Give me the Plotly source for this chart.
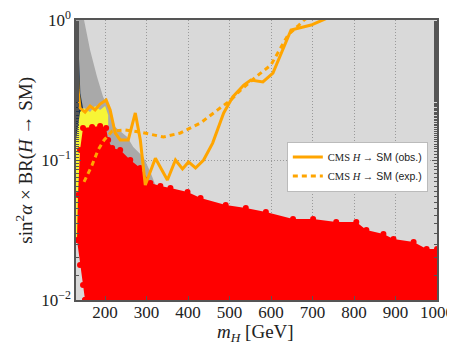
import plotly.graph_objects as go

# Observed CMS limit (solid)
obs_mass = [130, 132.4, 134.8, 139.7, 151.8, 163.9, 176, 188, 202.6, 212.3, 224.4, 236.5, 255.9,
            272.9, 285, 297, 321.3, 350.3, 369.7, 386.7, 401.2, 418.1, 437.5, 459.3, 485.9, 507.7,
            534.3, 551.3, 580.4, 604.6, 648.2, 696.6, 725.6, 769]
obs_limit = [0.8, 0.52, 0.316, 0.235, 0.22, 0.243, 0.228, 0.251, 0.268, 0.228, 0.156, 0.139, 0.139,
             0.217, 0.139, 0.0663, 0.103, 0.072, 0.1, 0.0863, 0.0968, 0.0877, 0.1, 0.132, 0.217, 0.282,
             0.343, 0.373, 0.361, 0.418, 0.848, 0.92, 1.0, 1.14]

# Expected CMS limit (dashed)
exp_mass = [149.4, 168.7, 183.3, 197.8, 217.2, 248.6, 285, 340.7, 381.8, 430.2, 471.4, 502.9, 527.1,
            563.4, 599.7, 623.9, 640.9, 667.5, 679.6, 708.7]
exp_limit = [0.0697, 0.092, 0.118, 0.139, 0.161, 0.164, 0.158, 0.146, 0.156, 0.184, 0.228, 0.268, 0.316,
             0.392, 0.477, 0.631, 0.781, 0.921, 1.0, 1.14]

# Dark grey region boundary
grey_mass = [130, 149.4, 163.9, 180.8, 195.4, 212.3, 224.4, 253.5, 268, 292.2, 309.2, 321.3, 321.3, 130]
grey_val = [1.0, 1.0, 0.611, 0.392, 0.282, 0.228, 0.172, 0.146, 0.124, 0.105, 0.0821, 0.0663, 0.0316, 0.0316]

# Dark blue region boundary
blue_mass = [130, 135.5, 140.5, 146.9, 148.5, 141.5, 130]
blue_val = [0.72, 0.72, 0.3, 0.235, 0.146, 0.134, 0.134]

# Yellow region boundary
yellow_mass = [130, 139.7, 149.4, 163.9, 176, 188.1, 200.2, 207.5, 207.5, 149.4, 144.5, 134.8, 130]
yellow_val = [0.139, 0.22, 0.235, 0.22, 0.243, 0.228, 0.243, 0.21, 0.169, 0.164, 0.0518, 0.0268, 0.0268]

# Red region boundary
red_mass = [151.8, 146.9, 139.7, 132.4, 134.8, 139.7, 146.9, 168.7, 188.1, 202.6, 207.5, 217.2, 236.5,
            260.8, 285, 309.2, 333.4, 357.6, 398.8, 430.2, 490.8, 539.2, 587.6, 653, 701.4, 757.1,
            805.5, 829.8, 870.9, 895.1, 943.6, 975, 1000, 1000, 151.8]
red_val = [0.01, 0.0128, 0.0178, 0.0268, 0.0562, 0.118, 0.169, 0.172, 0.175, 0.169, 0.139, 0.122, 0.118,
           0.1, 0.0877, 0.0685, 0.0652, 0.0631, 0.0591, 0.0535, 0.0477, 0.0454, 0.0425, 0.0379, 0.0379,
           0.0361, 0.0361, 0.0316, 0.0296, 0.0273, 0.026, 0.0231, 0.0231, 0.01, 0.01]

x_ticks = [200, 300, 400, 500, 600, 700, 800, 900, 1000]
x_ticktext = ["200", "300", "400", "500", "600", "700", "800", "900", "1000"]
y_ticks = [0.01, 0.1, 1]
y_ticktext = ["10<sup>−2</sup>", "10<sup>−1</sup>", "10<sup>0</sup>"]
x_title = "<i>m</i><sub><i>H</i></sub> [GeV]"
y_title = "sin<sup>2</sup><i>α</i> × BR(<i>H</i> → SM)"

SERIF = "Liberation Serif"
fig = go.Figure()

fig.add_trace(go.Scatter(x=grey_mass, y=grey_val, fill="toself", fillcolor="#a9a9a9",
                         line=dict(width=0), mode="lines", showlegend=False, hoverinfo="skip"))
fig.add_trace(go.Scatter(x=blue_mass, y=blue_val, fill="toself", fillcolor="#1e3550",
                         line=dict(width=0), mode="lines", showlegend=False, hoverinfo="skip"))
fig.add_trace(go.Scatter(x=yellow_mass, y=yellow_val, fill="toself", fillcolor="#f7f536",
                         line=dict(width=0), mode="lines", showlegend=False, hoverinfo="skip"))
fig.add_trace(go.Scatter(x=red_mass, y=red_val, fill="toself", fillcolor="#ff0000",
                         line=dict(width=0, color="#ff0000"), mode="lines+markers",
                         marker=dict(size=6, color="#ff0000"), showlegend=False, hoverinfo="skip"))

obs_name = "<span style='font-family:Liberation Serif'>CMS <i>H</i> →</span> SM (obs.)"
exp_name = "<span style='font-family:Liberation Serif'>CMS <i>H</i> →</span> SM (exp.)"
fig.add_trace(go.Scatter(x=obs_mass, y=obs_limit, mode="lines", name=obs_name,
                         line=dict(color="#ffa500", width=3)))
fig.add_trace(go.Scatter(x=exp_mass, y=exp_limit, mode="lines", name=exp_name,
                         line=dict(color="#ffa500", width=3, dash="5px,4px")))

# The page body adds an 8px margin, so the figure is sized to fit the 455x344 window.
fig.update_layout(
    width=447, height=336,
    margin=dict(l=68, r=18, t=12, b=44),
    paper_bgcolor="white", plot_bgcolor="#d9d9d9",
    legend=dict(x=0.584, y=0.566, xanchor="left", yanchor="top", bgcolor="white",
                bordercolor="#bbbbbb", borderwidth=1, tracegroupgap=0,
                font=dict(family="Liberation Sans", size=10.5, color="#222")),
    annotations=[
        dict(text=x_title, xref="paper", yref="paper", x=0.496, y=-0.117,
             xanchor="center", yanchor="middle", showarrow=False,
             font=dict(family=SERIF, size=19, color="#222")),
        dict(text=y_title, xref="paper", yref="paper", x=-0.145, y=0.5, textangle=-90,
             xanchor="center", yanchor="middle", showarrow=False,
             font=dict(family=SERIF, size=19, color="#222")),
    ],
)
fig.update_xaxes(range=[130, 1000], tickvals=x_ticks, ticktext=x_ticktext, automargin=False,
                 ticklabeloverflow="allow", ticklabelstandoff=-4,
                 showgrid=True, gridcolor="#9a9a9a", griddash="1px,2px", gridwidth=1,
                 showline=True, linecolor="#555", linewidth=1.5, mirror=True,
                 ticks="inside", ticklen=4, tickcolor="#555",
                 tickfont=dict(family=SERIF, size=17, color="#222"), zeroline=False)
fig.update_yaxes(type="log", range=[-2, 0], tickvals=y_ticks, ticktext=y_ticktext, automargin=False,
                 ticklabeloverflow="allow",
                 showgrid=True, gridcolor="#9a9a9a", griddash="1px,2px", gridwidth=1,
                 showline=True, linecolor="#555", linewidth=1.5, mirror="ticks",
                 ticks="inside", ticklen=5, tickcolor="#555",
                 minor=dict(ticks="inside", ticklen=3, tickcolor="#555", showgrid=False),
                 tickfont=dict(family=SERIF, size=17, color="#222"))

fig.write_html("out.html")
